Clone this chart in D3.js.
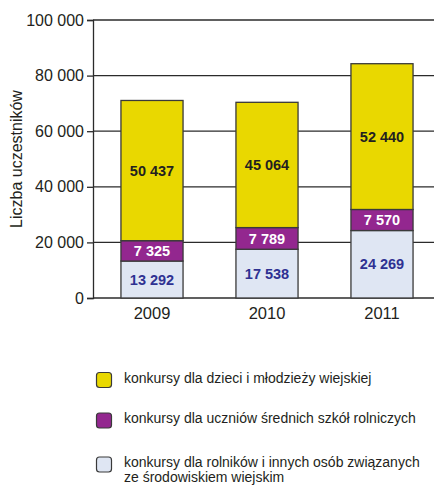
<!DOCTYPE html>
<html><head><meta charset="utf-8">
<script src="https://cdn.jsdelivr.net/npm/d3@7"></script>
<style>body{margin:0;background:#fff}svg{display:block;font-family:"Liberation Sans",Arial,sans-serif}</style>
</head><body><svg id="c" width="434" height="485"></svg>
<script>
const years = ["2009","2010","2011"];
const seriesNames = [
  "konkursy dla rolników i innych osób związanych\nze środowiskiem wiejskim",
  "konkursy dla uczniów średnich szkół rolniczych",
  "konkursy dla dzieci i młodzieży wiejskiej"
];
const rolnicy = [13292, 17538, 24269];
const uczniowie = [7325, 7789, 7570];
const dzieci = [50437, 45064, 52440];
const yTicks = [0, 20000, 40000, 60000, 80000, 100000];
const colors = ["#dfe6f3", "#93278f", "#e9d800"];
const labelColors = ["#2e3192", "#ffffff", "#231f20"];
const yTitle = "Liczba uczestników";

const svg = d3.select("#c");
const fmt = v => d3.format(",")(v).replace(/,/g, " ");
const y = d3.scaleLinear().domain([0, 100000]).range([298, 20]);
const x = d3.scaleBand().domain(years).range([94.5, 439.5]).paddingInner(0.46).paddingOuter(0.23);

// gridlines
svg.append("g").selectAll("line").data(yTicks).join("line")
  .attr("x1", 93).attr("x2", 434)
  .attr("y1", d => y(d)).attr("y2", d => y(d))
  .attr("stroke", "#2b2b2b").attr("stroke-width", 1.3);

// y axis
const ya = svg.append("g").attr("transform", "translate(93,0)")
  .call(d3.axisLeft(y).tickValues(yTicks).tickFormat(fmt).tickSize(6).tickPadding(3));
ya.select(".domain").attr("stroke", "#2b2b2b").attr("stroke-width", 1.3);
ya.selectAll(".tick line").attr("stroke", "#2b2b2b").attr("stroke-width", 1.3);
ya.selectAll("text").attr("font-size", 16).attr("fill", "#231f20").attr("font-family", "Liberation Sans, Arial, sans-serif");

// x axis labels
const xa = svg.append("g").attr("transform", "translate(0,298)")
  .call(d3.axisBottom(x).tickSize(0));
xa.select(".domain").remove();
xa.selectAll("text").attr("y", 20.5).attr("dy", 0).attr("font-size", 16.5).attr("fill", "#231f20").attr("font-family", "Liberation Sans, Arial, sans-serif");

// stacked bars
const rows = years.map((yr, i) => ({year: yr, a: rolnicy[i], b: uczniowie[i], c: dzieci[i]}));
const stack = d3.stack().keys(["a","b","c"])(rows);
const g = svg.append("g");
stack.forEach((layer, k) => {
  g.selectAll(null).data(layer).join("rect")
    .attr("x", d => x(d.data.year))
    .attr("width", x.bandwidth())
    .attr("y", d => y(d[1]))
    .attr("height", d => y(d[0]) - y(d[1]))
    .attr("fill", colors[k])
    .attr("stroke", "#3a3a3a").attr("stroke-width", 1.3);
});
stack.forEach((layer, k) => {
  g.selectAll(null).data(layer).join("text")
    .attr("x", d => x(d.data.year) + x.bandwidth() / 2)
    .attr("y", d => (y(d[0]) + y(d[1])) / 2)
    .attr("dy", "0.36em")
    .attr("text-anchor", "middle")
    .attr("font-size", 14.5).attr("font-weight", "bold")
    .attr("fill", labelColors[k])
    .text(d => fmt(d[1] - d[0]));
});

// y title
svg.append("text")
  .attr("transform", "translate(21.5,159) rotate(-90)")
  .attr("text-anchor", "middle")
  .attr("font-size", 16).attr("fill", "#231f20")
  .text(yTitle);

// legend
const legendOrder = [2, 1, 0];
const legY = [372.5, 413, 457];
const lg = svg.append("g");
legendOrder.forEach((k, i) => {
  lg.append("rect").attr("x", 96.5).attr("y", legY[i]).attr("width", 15).attr("height", 15)
    .attr("rx", 3).attr("fill", colors[k]).attr("stroke", "#3a3a3a").attr("stroke-width", 1.2);
  const lines = seriesNames[k].split("\n");
  lines.forEach((ln, j) => lg.append("text")
    .attr("x", 124).attr("y", legY[i] + 10 + j * 14.5)
    .attr("font-size", 14).attr("fill", "#231f20").text(ln));
});
</script></body></html>
